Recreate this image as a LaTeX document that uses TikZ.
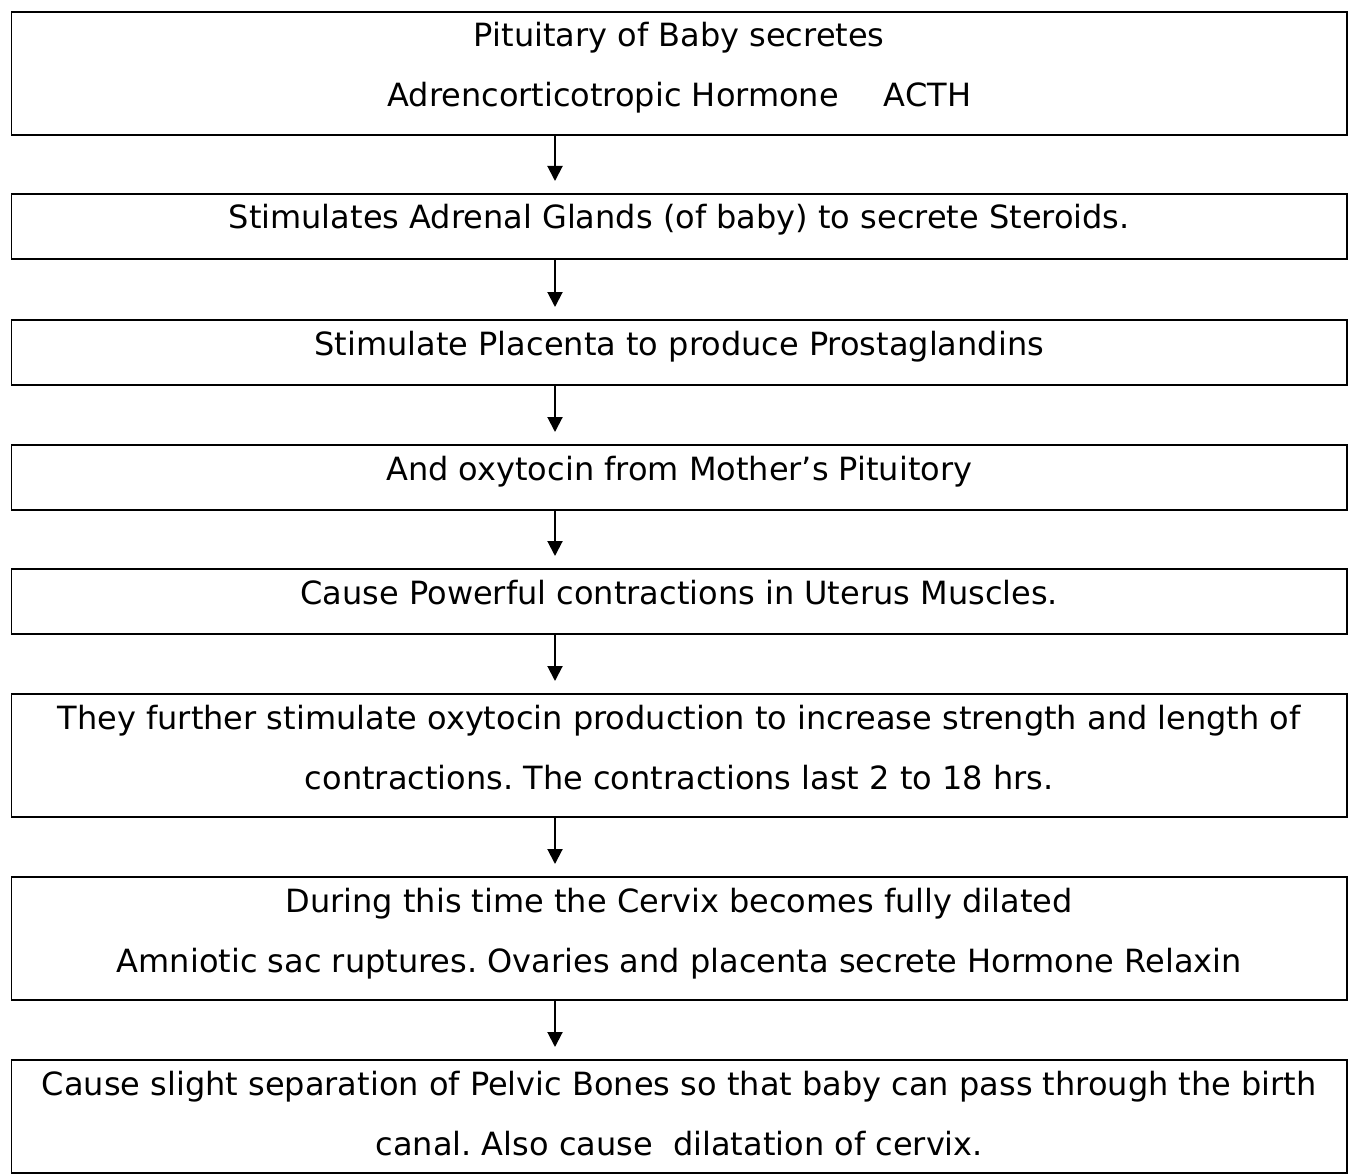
\documentclass[tikz,border=0pt]{standalone}
\usepackage{fontspec}
\setmainfont{DejaVu Sans}
\usetikzlibrary{arrows.meta}
\frenchspacing
\begin{document}
\begin{tikzpicture}[x=1pt,y=-1pt,
  box/.style={draw, line width=1.8pt, rectangle, inner sep=0pt,
    minimum width=1335.5pt, anchor=north},
  txt/.style={anchor=base, inner sep=0pt, font=\fontsize{32}{38}\selectfont},
  flow/.style={line width=2pt, -{Triangle[length=15pt,width=15pt]},
    shorten >=12pt}]
\useasboundingbox (0,0) rectangle (1351,1174);
% column on which the arrows run
\coordinate (ax) at (555,0);

% boxes
\node[box, minimum height=123pt] (b1) at (679.25,11) {};
\node[box, minimum height=65pt]  (b2) at (679.25,193) {};
\node[box, minimum height=65pt]  (b3) at (679.25,319) {};
\node[box, minimum height=65pt]  (b4) at (679.25,444) {};
\node[box, minimum height=65pt]  (b5) at (679.25,568) {};
\node[box, minimum height=123pt] (b6) at (679.25,693) {};
\node[box, minimum height=123pt] (b7) at (679.25,876) {};
\node[box, minimum height=113pt] (b8) at (679.25,1059) {};

% texts
\node[txt] (t1a) at (679.25,47)  {Pituitary of Baby secretes};
\node[txt] (t1b) at (679.25,107) {Adrencorticotropic Hormone\hspace{45pt}ACTH};
\node[txt] (t2)  at (679.25,229) {Stimulates Adrenal Glands (of baby) to secrete Steroids.};
\node[txt] (t3)  at (679.25,355) {Stimulate Placenta to produce Prostaglandins};
\node[txt] (t4)  at (679.25,480) {And oxytocin from Mother’s Pituitory};
\node[txt] (t5)  at (679.25,604) {Cause Powerful contractions in Uterus Muscles.};
\node[txt] (t6a) at (679.25,729) {They further stimulate oxytocin production to increase strength and length of};
\node[txt] (t6b) at (679.25,789) {contractions. The contractions last 2 to 18 hrs.};
\node[txt] (t7a) at (679.25,912) {During this time the Cervix becomes fully dilated};
\node[txt] (t7b) at (679.25,972) {Amniotic sac ruptures. Ovaries and placenta secrete Hormone Relaxin};
\node[txt] (t8a) at (679.25,1095) {Cause slight separation of Pelvic Bones so that baby can pass through the birth};
\node[txt] (t8b) at (679.25,1155) {canal. Also cause\hspace{10pt} dilatation of cervix.};

% arrows
\draw[flow] (b1.south -| ax) -- (b2.north -| ax);
\draw[flow] (b2.south -| ax) -- (b3.north -| ax);
\draw[flow] (b3.south -| ax) -- (b4.north -| ax);
\draw[flow] (b4.south -| ax) -- (b5.north -| ax);
\draw[flow] (b5.south -| ax) -- (b6.north -| ax);
\draw[flow] (b6.south -| ax) -- (b7.north -| ax);
\draw[flow] (b7.south -| ax) -- (b8.north -| ax);
\end{tikzpicture}
\end{document}
